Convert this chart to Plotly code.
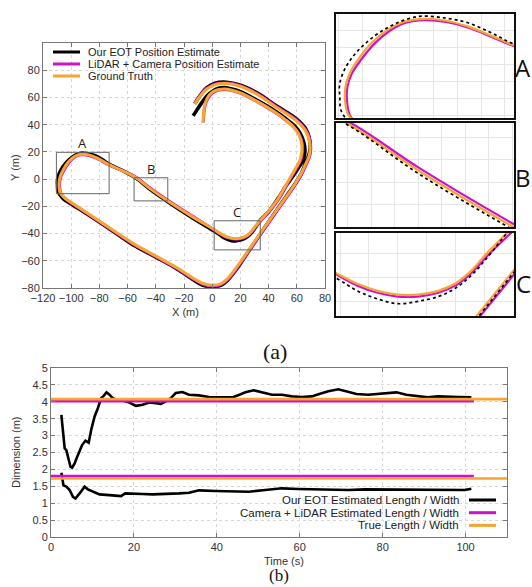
import plotly.graph_objects as go

# ---------------- trajectory data (metres) ----------------
# ground truth, in driving order
gt_x = [-6.4, -6.2, -5.6, -3.5, 0.0, 4.0, 9.0, 14.0, 19.6, 31.5, 43.3, 52.0, 57.5, 61.3, 63.3,
        63.6, 62.3, 59.5, 55.5, 52.8, 46.8, 40.0, 33.9, 30.3, 27.5, 25.0, 22.0, 18.5, 15.0, 11.5,
        8.0, 5.0, 1.9, -15.0, -32.3, -44.3, -54.0, -64.0, -73.6, -77.8, -82.7, -87.6, -91.8, -96.0,
        -99.5, -103.0, -105.8, -107.6, -108.5, -108.6, -107.9, -104.5, -98.0, -91.6, -74.0, -56.1,
        -40.0, -25.3, -14.0, -7.0, 0.0, 6.0, 10.5, 16.1, 25.0, 34.1, 43.5, 52.8, 59.0, 63.0, 66.5,
        68.8, 69.4, 68.5, 65.5, 59.0, 45.7, 31.5, 19.6, 10.2, 2.0, -4.0, -8.5, -12.3]
gt_y = [41.6, 47.0, 53.0, 59.5, 63.8, 65.6, 66.2, 65.3, 63.5, 57.3, 50.0, 43.5, 38.5, 33.0, 27.0,
        20.5, 14.0, 8.5, 1.5, -3.4, -14.3, -23.5, -30.6, -35.0, -38.8, -41.2, -42.8, -43.6, -43.6, -42.8,
        -41.3, -39.5, -37.4, -27.0, -15.5, -6.8, 1.0, 6.2, 10.8, 13.3, 16.0, 17.8, 18.3, 17.5,
        15.2, 11.3, 6.5, 2.4, -1.5, -5.4, -9.8, -14.0, -18.5, -22.9, -35.0, -47.2,
        -56.5, -65.0, -72.5, -76.5, -78.0, -77.0, -73.5, -66.5, -53.5, -39.9, -26.0, -12.5, -3.0, 4.0, 11.5,
        17.5, 23.0, 30.0, 36.5, 43.5, 52.6, 62.5, 68.2, 70.2, 69.4, 66.0, 61.0, 55.1]

# extended-object-tracking estimate
eot_x = [-13.5, -11.0, -7.5, -3.5, 0.5, 4.5, 9.0, 14.0, 20.0, 31.5, 43.5, 52.5, 58.5, 62.5, 65.0,
         65.8, 64.5, 61.0, 56.5, 53.0, 46.5, 40.0, 34.5, 31.0, 28.0, 25.0, 22.0, 18.5, 15.0, 11.5,
         8.0, 5.0, 1.9, -15.0, -32.3, -44.3, -54.0, -64.0, -73.6, -78.0, -83.0, -88.0, -93.0, -97.5,
         -101.0, -104.0, -106.5, -108.5, -109.7, -109.7, -109.3, -105.5, -98.5, -91.8, -74.0, -56.3,
         -40.0, -25.3, -14.0, -7.0, 0.0, 6.5, 11.0, 16.8, 25.5, 34.5, 44.0, 53.0, 59.5, 63.2, 66.2,
         68.5, 69.5, 68.8, 66.0, 59.5, 46.0, 31.5, 19.6, 10.2, 2.0, -4.0, -8.5, -12.3]
eot_y = [46.5, 50.5, 56.0, 61.5, 64.8, 66.8, 67.2, 66.2, 64.2, 58.0, 50.8, 44.2, 39.0, 33.5, 27.0,
         20.5, 14.0, 8.0, 1.0, -4.0, -14.5, -24.0, -29.8, -35.0, -39.2, -42.2, -44.0, -45.0, -45.5, -44.5,
         -42.8, -40.6, -38.5, -27.8, -16.0, -7.3, 0.8, 6.5, 11.2, 14.3, 17.2, 18.6, 19.0, 17.2,
         14.6, 11.5, 8.0, 4.0, -0.5, -4.5, -9.0, -14.5, -19.3, -23.6, -35.7, -48.2,
         -57.3, -65.8, -73.5, -77.8, -79.0, -77.8, -74.2, -66.8, -53.5, -39.8, -25.5, -12.0, -2.5, 4.0, 11.5,
         17.5, 23.0, 30.5, 37.5, 44.5, 53.5, 63.5, 69.2, 71.2, 70.5, 67.0, 61.5, 55.5]

# LiDAR + camera estimate
lc_x = [-6.4, -6.0, -5.3, -3.1, 0.4, 4.2, 9.0, 14.0, 19.8, 31.8, 43.6, 52.4, 57.9, 61.8, 63.8,
        64.1, 62.8, 60.0, 56.0, 53.3, 47.3, 40.5, 34.3, 30.6, 27.7, 25.1, 22.0, 18.5, 15.0, 11.5,
        8.0, 5.0, 1.9, -15.0, -32.3, -44.3, -54.0, -64.0, -73.6, -77.8, -82.5, -87.4, -91.8, -96.0,
        -99.2, -102.5, -105.3, -107.2, -108.1, -108.2, -107.5, -104.2, -97.8, -91.4, -73.8, -55.9,
        -39.8, -25.1, -13.9, -6.9, 0.0, 6.2, 10.9, 16.6, 25.5, 34.6, 44.0, 53.3, 59.5, 63.5, 67.0,
        69.3, 69.9, 69.0, 66.0, 59.4, 46.0, 31.8, 19.8, 10.2, 2.0, -4.2, -8.7, -12.5]
lc_y = [41.6, 47.0, 53.0, 59.3, 63.5, 65.3, 65.9, 65.0, 63.1, 56.9, 49.6, 43.1, 38.1, 32.7, 26.8,
        20.4, 13.8, 8.3, 1.3, -3.6, -14.6, -23.8, -30.9, -35.3, -39.1, -41.6, -43.2, -44.0, -44.0, -43.2,
        -41.7, -39.8, -37.6, -26.6, -15.0, -6.3, 1.4, 6.4, 10.6, 13.0, 15.6, 17.4, 17.9, 17.1,
        14.8, 10.9, 6.2, 2.2, -1.6, -5.5, -10.1, -14.4, -19.0, -23.4, -35.6, -47.8,
        -57.1, -65.6, -73.1, -77.1, -78.6, -77.5, -73.9, -66.8, -53.7, -40.1, -26.2, -12.7, -3.2, 3.8, 11.3,
        17.4, 23.0, 30.1, 36.8, 43.9, 53.0, 62.9, 68.6, 70.6, 69.8, 66.4, 61.3, 55.3]

# ---------------- dimension data ----------------
t_len = [2.5, 2.9, 3.3, 3.7, 4.1, 4.7, 5.1, 5.7, 6.5, 7.5, 8.3, 9.1, 9.7, 10.5, 11.3, 12.1, 12.6,
         13.4, 14.1, 14.9, 15.7, 17.3, 18.9, 20.5, 22.1, 23.7, 25.3, 26.5, 27.7, 28.9, 30.1, 31.7,
         33.3, 35.7, 38.1, 41.3, 43.7, 45.3, 46.9, 48.9, 50.9, 53.3, 55.7, 58.1, 60.5, 62.9, 64.9,
         66.9, 69.3, 71.3, 73.7, 76.5, 78.9, 81.3, 83.3, 85.7, 88.5, 90.9, 93.3, 95.7, 98.2, 101.4]
eot_len = [3.61, 2.97, 2.62, 2.57, 2.38, 2.08, 2.05, 2.18, 2.43, 2.72, 2.85, 2.79, 3.17, 3.56, 3.81,
           4.11, 4.16, 4.28, 4.21, 4.11, 4.06, 4.04, 3.98, 3.88, 3.91, 3.98, 3.96, 3.94, 4.01, 4.11,
           4.26, 4.29, 4.21, 4.19, 4.14, 4.14, 4.13, 4.20, 4.28, 4.34, 4.28, 4.21, 4.21, 4.16, 4.14,
           4.16, 4.24, 4.31, 4.37, 4.30, 4.23, 4.21, 4.23, 4.26, 4.28, 4.21, 4.16, 4.13, 4.16, 4.16,
           4.14, 4.13]
t_wid = [2.5, 3.0, 3.7, 4.5, 5.3, 5.9, 6.9, 8.1, 8.9, 10.1, 11.7, 14.1, 15.7, 16.9, 17.9, 19.7,
         22.1, 24.5, 27.7, 30.9, 33.3, 35.7, 39.7, 43.7, 47.7, 51.7, 55.7, 59.7, 63.7, 67.7, 71.7,
         75.7, 79.7, 83.7, 87.7, 91.7, 95.7, 99.8, 101.4]
eot_wid = [1.90, 1.53, 1.49, 1.39, 1.19, 1.14, 1.29, 1.49, 1.41, 1.34, 1.26, 1.24, 1.22, 1.21, 1.29,
           1.29, 1.27, 1.26, 1.27, 1.29, 1.31, 1.38, 1.36, 1.34, 1.34, 1.39, 1.44, 1.42, 1.41, 1.39,
           1.39, 1.41, 1.41, 1.39, 1.39, 1.39, 1.39, 1.39, 1.43]
lc_span = [0, 102]
lc_len = [4.02, 4.02]
lc_wid = [1.80, 1.80]
true_span = [0, 110]
true_len = [4.08, 4.08]
true_wid = [1.73, 1.73]

BLACK = "#000000"
MAGENTA = "#CC11CC"
ORANGE = "#F7A532"
TXT = "#333333"
W, H = 532, 587


def px(x):
    return x / W


def py(y):
    return 1 - y / H


def note(text, x, y, size, family, color="#222", xanchor="center", angle=0, yanchor="middle"):
    fig.add_annotation(x=px(x), y=py(y), xref="paper", yref="paper", text=text, showarrow=False,
                       xanchor=xanchor, yanchor=yanchor, textangle=angle,
                       font=dict(family=family, size=size, color=color))


fig = go.Figure()

# ---- (a) main trajectory panel ----
fig.add_trace(go.Scatter(x=eot_x, y=eot_y, mode="lines", line=dict(color=BLACK, width=3.6, shape="spline"),
                         xaxis="x", yaxis="y", hoverinfo="skip"))
fig.add_trace(go.Scatter(x=lc_x, y=lc_y, mode="lines", line=dict(color=MAGENTA, width=3, shape="spline"),
                         xaxis="x", yaxis="y", hoverinfo="skip"))
fig.add_trace(go.Scatter(x=gt_x, y=gt_y, mode="lines", line=dict(color=ORANGE, width=3, shape="spline"),
                         xaxis="x", yaxis="y", hoverinfo="skip"))

# ---- zoomed insets A, B, C ----
for ax in ["2", "3", "4"]:
    fig.add_trace(go.Scatter(x=lc_x, y=lc_y, mode="lines", line=dict(color=MAGENTA, width=2.2, shape="spline"),
                             xaxis="x" + ax, yaxis="y" + ax, hoverinfo="skip"))
    fig.add_trace(go.Scatter(x=gt_x, y=gt_y, mode="lines", line=dict(color=ORANGE, width=2.2, shape="spline"),
                             xaxis="x" + ax, yaxis="y" + ax, hoverinfo="skip"))
    fig.add_trace(go.Scatter(x=eot_x, y=eot_y, mode="lines",
                             line=dict(color=BLACK, width=1.7, shape="spline", dash="dot"),
                             xaxis="x" + ax, yaxis="y" + ax, hoverinfo="skip"))

# ---- (b) dimension panel ----
fig.add_trace(go.Scatter(x=t_len, y=eot_len, mode="lines", line=dict(color=BLACK, width=2.6),
                         xaxis="x5", yaxis="y5", hoverinfo="skip"))
fig.add_trace(go.Scatter(x=t_wid, y=eot_wid, mode="lines", line=dict(color=BLACK, width=2.6),
                         xaxis="x5", yaxis="y5", hoverinfo="skip"))
fig.add_trace(go.Scatter(x=lc_span, y=lc_len, mode="lines", line=dict(color=MAGENTA, width=2.6),
                         xaxis="x5", yaxis="y5", hoverinfo="skip"))
fig.add_trace(go.Scatter(x=lc_span, y=lc_wid, mode="lines", line=dict(color=MAGENTA, width=2.6),
                         xaxis="x5", yaxis="y5", hoverinfo="skip"))
fig.add_trace(go.Scatter(x=true_span, y=true_len, mode="lines", line=dict(color=ORANGE, width=2.6),
                         xaxis="x5", yaxis="y5", hoverinfo="skip"))
fig.add_trace(go.Scatter(x=true_span, y=true_wid, mode="lines", line=dict(color=ORANGE, width=2.6),
                         xaxis="x5", yaxis="y5", hoverinfo="skip"))

SANS = "Liberation Sans, Arial, sans-serif"
SERIF = "Liberation Serif, Times New Roman, serif"
LETTER = "Open Sans, sans-serif"
tickfont = dict(family=SANS, size=11, color=TXT)
frame = dict(showline=True, linecolor="#777777", linewidth=1, mirror="allticks", ticks="inside",
             ticklen=4, tickcolor="#777777", showgrid=True, gridcolor="#D8D8D8", griddash="dot",
             gridwidth=1, zeroline=False, tickfont=tickfont, automargin=False)

inset = dict(showline=True, linecolor="#111111", linewidth=2, mirror=True, ticks="",
             showticklabels=False, showgrid=True, gridcolor="#E6E6E6", gridwidth=1, zeroline=False,
             automargin=False)

fig.update_layout(
    width=W, height=H, margin=dict(l=0, r=0, t=0, b=0, autoexpand=False),
    paper_bgcolor="white", plot_bgcolor="white", showlegend=False,
    xaxis=dict(frame, domain=[px(43), px(325)], range=[-120, 80], dtick=20, anchor="y"),
    yaxis=dict(frame, domain=[py(288), py(43)], range=[-80, 100], tickvals=list(range(-80, 81, 20)),
               anchor="x"),
    xaxis2=dict(inset, domain=[px(336), px(514)], range=[-110.5, -73.1], dtick=5, anchor="y2"),
    yaxis2=dict(inset, domain=[py(118), py(14)], range=[-10.7, 19.7], dtick=5, anchor="x2"),
    xaxis3=dict(inset, domain=[px(336), px(514)], range=[-55.4, -31.5], tick0=-53.8, dtick=3.15, anchor="y3"),
    yaxis3=dict(inset, domain=[py(227), py(123)], range=[-16, 1], tick0=-1.3, dtick=3.7, anchor="x3"),
    xaxis4=dict(inset, domain=[px(336), px(514)], range=[4.3, 35.1], dtick=5, anchor="y4"),
    yaxis4=dict(inset, domain=[py(316), py(233)], range=[-48.1, -30.6], dtick=5, anchor="x4"),
    xaxis5=dict(frame, domain=[px(51), px(507)], range=[0, 110], dtick=20, anchor="y5"),
    yaxis5=dict(frame, domain=[py(537), py(368)], range=[0, 5], dtick=0.5, anchor="x5"),
)

# axis titles
note("X (m)", 185, 312, 11, SANS, TXT)
note("Y (m)", 15, 168, 11, SANS, TXT, angle=-90)
note("Time (s)", 284, 560.5, 11, SANS, TXT)
note("Dimension (m)", 16, 452, 11, SANS, TXT, angle=-90)

# zoom regions marked on the main panel
boxes = {"A": (-110.5, -10.7, -73.1, 19.7), "B": (-55.4, -16.0, -31.5, 1.0), "C": (1.4, -52.0, 34.1, -30.6)}
for name, (x0, y0, x1, y1) in boxes.items():
    fig.add_shape(type="rect", xref="x", yref="y", x0=x0, y0=y0, x1=x1, y1=y1,
                  line=dict(color="#666666", width=1))
    fig.add_annotation(x=(x0 + x1) / 2, y=y1, xref="x", yref="y", text=name, showarrow=False,
                       xanchor="center", yanchor="bottom", yshift=-2,
                       font=dict(family=LETTER, size=13, color="#222"))

# inset letters
for name, yy in [("A", 68), ("B", 177), ("C", 283)]:
    note(name, 523, yy, 24, LETTER, "#111")

# panel captions
note("(a)", 275, 351, 22, SERIF, "#111")
note("(b)", 279, 587, 17, SERIF, "#111", yanchor="bottom")

# legend of panel (a)
legend_a = [("Our EOT Position Estimate", BLACK), ("LiDAR + Camera Position Estimate", MAGENTA),
            ("Ground Truth", ORANGE)]
for i, (label, col) in enumerate(legend_a):
    yy = 52 + 12 * i
    fig.add_shape(type="line", xref="paper", yref="paper", x0=px(53), x1=px(80), y0=py(yy), y1=py(yy),
                  line=dict(color=col, width=3))
    note(label, 86, yy, 11, SANS, "#222", xanchor="left")

# legend of panel (b)
legend_b = [("Our EOT Estimated Length / Width", BLACK), ("Camera + LiDAR Estimated Length / Width", MAGENTA),
            ("True Length / Width", ORANGE)]
for i, (label, col) in enumerate(legend_b):
    yy = 500 + 12.7 * i
    fig.add_shape(type="line", xref="paper", yref="paper", x0=px(469), x1=px(496), y0=py(yy), y1=py(yy),
                  line=dict(color=col, width=3))
    note(label, 461, yy, 11.5, SANS, "#222", xanchor="right")

fig.write_html("out.html")
